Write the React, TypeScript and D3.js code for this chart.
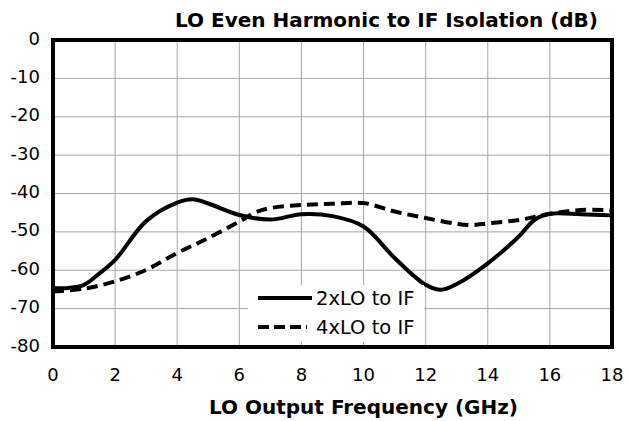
import * as d3 from "d3";
import React, { useRef, useEffect } from "react";

// frequency points (GHz)
const freq2 = [0, 0.5, 1, 1.5, 2, 3, 4, 4.5, 5, 6, 7, 8, 9, 10, 11, 12, 12.5, 13, 14, 15, 15.5, 16, 17, 18];
const lo2 = [-64.6, -64.6, -63.8, -60.8, -57.3, -47.2, -42.4, -41.5, -42.6, -45.6, -46.8, -45.4, -45.9, -48.6, -56.8, -63.8, -65.1, -63.6, -58.2, -51.2, -46.9, -45.3, -45.4, -45.7];
const freq4 = [0, 1, 2, 3, 4, 5, 6, 6.5, 7, 8, 9, 10, 11, 12, 13, 13.5, 14, 15, 16, 17, 18];
const lo4 = [-65.5, -64.8, -62.9, -59.9, -55.5, -51.6, -47.3, -45.0, -43.8, -43.0, -42.7, -42.5, -44.7, -46.4, -47.9, -48.2, -47.8, -46.9, -45.3, -44.3, -44.4];
const xTicks = [0, 2, 4, 6, 8, 10, 12, 14, 16, 18];
const yTicks = [0, -10, -20, -30, -40, -50, -60, -70, -80];
const seriesNames = ["2xLO to IF", "4xLO to IF"];

function App() {
  const svgRef = useRef<SVGSVGElement>(null);

  useEffect(() => {
    const w = 628;
    const h = 421;
    const left = 53, right = 612, top = 40, bottom = 347;
    const font = "DejaVu Sans, sans-serif";

    const svg = d3.select(svgRef.current)
      .attr("width", w)
      .attr("height", h)
      .style("position", "absolute")
      .style("left", 0)
      .style("top", 0);
    svg.selectAll("*").remove();

    svg.append("rect").attr("width", w).attr("height", h).attr("fill", "#fff");

    const x = d3.scaleLinear().domain([0, 18]).range([left, right]);
    const y = d3.scaleLinear().domain([-80, 0]).range([bottom, top]);

    // grid
    svg.append("g")
      .selectAll("line")
      .data(xTicks)
      .join("line")
      .attr("x1", d => x(d)).attr("x2", d => x(d))
      .attr("y1", top).attr("y2", bottom)
      .attr("stroke", "#a6a6a6").attr("stroke-width", 1);
    svg.append("g")
      .selectAll("line")
      .data(yTicks)
      .join("line")
      .attr("x1", left).attr("x2", right)
      .attr("y1", d => y(d)).attr("y2", d => y(d))
      .attr("stroke", "#a6a6a6").attr("stroke-width", 1);

    const line = d3.line<[number, number]>()
      .x(d => x(d[0]))
      .y(d => y(d[1]))
      .curve(d3.curveCatmullRom.alpha(0.5));

    svg.append("path")
      .attr("d", line(freq4.map((f, i) => [f, lo4[i]]))!)
      .attr("fill", "none").attr("stroke", "#000").attr("stroke-width", 4)
      .attr("stroke-dasharray", "11,6");
    svg.append("path")
      .attr("d", line(freq2.map((f, i) => [f, lo2[i]]))!)
      .attr("fill", "none").attr("stroke", "#000").attr("stroke-width", 4);

    // legend
    const lg = svg.append("g");
    lg.append("rect")
      .attr("x", 248).attr("y", 285)
      .attr("width", 176).attr("height", 57)
      .attr("fill", "#fff");
    seriesNames.forEach((name, i) => {
      const yy = 298 + i * 29;
      lg.append("line")
        .attr("x1", 258).attr("x2", i === 1 ? 307 : 312)
        .attr("y1", yy).attr("y2", yy)
        .attr("stroke", "#000").attr("stroke-width", 4)
        .attr("stroke-dasharray", i === 1 ? "11,5" : null);
      lg.append("text")
        .attr("x", 316).attr("y", yy + 7)
        .attr("font-family", font).attr("font-size", 19.5)
        .text(name);
    });

    // border
    svg.append("rect")
      .attr("x", left).attr("y", top)
      .attr("width", right - left).attr("height", bottom - top)
      .attr("fill", "none").attr("stroke", "#000").attr("stroke-width", 4);

    // tick labels
    svg.append("g")
      .selectAll("text")
      .data(yTicks)
      .join("text")
      .attr("x", 40).attr("y", d => y(d) + 4.5)
      .attr("text-anchor", "end")
      .attr("font-family", font).attr("font-size", 18)
      .text(d => d);
    svg.append("g")
      .selectAll("text")
      .data(xTicks)
      .join("text")
      .attr("x", d => x(d)).attr("y", 381)
      .attr("text-anchor", "middle")
      .attr("font-family", font).attr("font-size", 18)
      .text(d => d);

    // titles
    svg.append("text")
      .attr("x", 598).attr("y", 27)
      .attr("text-anchor", "end")
      .attr("font-family", font).attr("font-size", 20).attr("font-weight", "bold")
      .text("LO Even Harmonic to IF Isolation (dB)");
    svg.append("text")
      .attr("x", 363.5).attr("y", 414)
      .attr("text-anchor", "middle")
      .attr("font-family", font).attr("font-size", 20).attr("font-weight", "bold")
      .text("LO Output Frequency (GHz)");
  }, []);

  return (
    <div className="App">
      <svg ref={svgRef}></svg>
    </div>
  );
}

export default App;
